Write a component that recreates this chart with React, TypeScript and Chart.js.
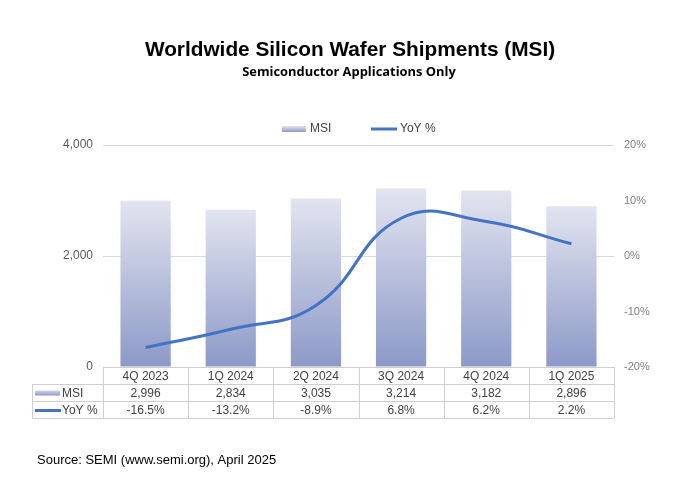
import React, { useEffect, useRef } from "react";
import { Chart, registerables } from "chart.js";

Chart.register(...registerables);

const quarters = ["4Q 2023", "1Q 2024", "2Q 2024", "3Q 2024", "4Q 2024", "1Q 2025"];
const msi = [2996, 2834, 3035, 3214, 3182, 2896];
const yoy = [-16.5, -13.2, -8.9, 6.8, 6.2, 2.2];
const msiTicks = ["0", "2,000", "4,000"];
const yoyTicks = ["-20%", "-10%", "0%", "10%", "20%"];

const LINE_BLUE = "#4472C4";
const BAR_TOP = "#e2e4ef";
const BAR_BOTTOM = "#8c99c8";
const TEXT = "#404040";
const GRID = "#d9d9d9";

const fmtMsi = (v: number) => v.toLocaleString("en-US");
const fmtYoy = (v: number) => v.toFixed(1) + "%";

// Title, legend, data table and source note drawn around the plot area
const decorations = {
  id: "decorations",
  afterDraw(chart: any) {
    const { ctx, chartArea, scales } = chart;
    const x = scales.x;
    ctx.save();

    // Title & subtitle
    ctx.fillStyle = "#000";
    ctx.textAlign = "center";
    ctx.textBaseline = "middle";
    ctx.font = "bold 20.8px 'Liberation Sans', Arial, sans-serif";
    ctx.fillText("Worldwide Silicon Wafer Shipments (MSI)", 350, 50);
    ctx.font = "bold 12.9px 'Open Sans', sans-serif";
    ctx.fillText("Semiconductor Applications Only", 349, 72);

    // Legend
    const msiGrad = ctx.createLinearGradient(0, 126, 0, 132);
    msiGrad.addColorStop(0, BAR_TOP);
    msiGrad.addColorStop(1, BAR_BOTTOM);
    ctx.fillStyle = msiGrad;
    ctx.fillRect(282, 126, 24, 6);
    ctx.strokeStyle = LINE_BLUE;
    ctx.lineWidth = 3;
    ctx.beginPath();
    ctx.moveTo(371, 129);
    ctx.lineTo(397, 129);
    ctx.stroke();
    ctx.fillStyle = TEXT;
    ctx.textAlign = "left";
    ctx.font = "12px 'Liberation Sans', Arial, sans-serif";
    ctx.fillText("MSI", 310, 129);
    ctx.fillText("YoY %", 400, 129);

    // Data table
    const top = chartArea.bottom;
    const rowH = 17;
    const left = 32;
    const n = quarters.length;
    const step = (chartArea.right - chartArea.left) / n;
    const colEdge = (i: number) => chartArea.left + i * step;
    ctx.strokeStyle = "#cfcfcf";
    ctx.lineWidth = 1;
    ctx.beginPath();
    ctx.moveTo(chartArea.left, top + 0.5);
    ctx.lineTo(chartArea.right, top + 0.5);
    for (let r = 1; r <= 3; r++) {
      const y = Math.round(top + r * rowH) + 0.5;
      ctx.moveTo(left, y);
      ctx.lineTo(chartArea.right, y);
    }
    for (let i = 0; i <= n; i++) {
      const xx = Math.round(colEdge(i)) + 0.5;
      ctx.moveTo(xx, top);
      ctx.lineTo(xx, top + 3 * rowH);
    }
    ctx.moveTo(left + 0.5, top + rowH);
    ctx.lineTo(left + 0.5, top + 3 * rowH);
    ctx.stroke();

    ctx.fillStyle = TEXT;
    ctx.textAlign = "center";
    ctx.font = "12px 'Liberation Sans', Arial, sans-serif";
    quarters.forEach((q, i) => {
      const cx = x.getPixelForValue(i);
      ctx.fillText(q, cx, top + rowH * 0.5 + 1);
      ctx.fillText(fmtMsi(msi[i]), cx, top + rowH * 1.5 + 1);
      ctx.fillText(fmtYoy(yoy[i]), cx, top + rowH * 2.5 + 1);
    });

    // Row keys
    const r1 = top + rowH * 1.5;
    const r2 = top + rowH * 2.5;
    const keyGrad = ctx.createLinearGradient(0, r1 - 3, 0, r1 + 3);
    keyGrad.addColorStop(0, BAR_TOP);
    keyGrad.addColorStop(1, BAR_BOTTOM);
    ctx.fillStyle = keyGrad;
    ctx.fillRect(35, r1 - 2, 25, 5);
    ctx.strokeStyle = LINE_BLUE;
    ctx.lineWidth = 3;
    ctx.beginPath();
    ctx.moveTo(35, r2 + 1);
    ctx.lineTo(61, r2 + 1);
    ctx.stroke();
    ctx.fillStyle = TEXT;
    ctx.textAlign = "left";
    ctx.fillText("MSI", 62, r1 + 1);
    ctx.fillText("YoY %", 62, r2 + 1);

    // Source note
    ctx.fillStyle = "#000";
    ctx.font = "13px 'Liberation Sans', Arial, sans-serif";
    ctx.fillText("Source: SEMI (www.semi.org), April 2025", 37, 460);

    ctx.restore();
  },
};

function barFill(context: any) {
  const chart = context.chart;
  const yScale = chart.scales.y;
  if (!yScale || context.raw == null) return BAR_BOTTOM;
  const yTop = yScale.getPixelForValue(context.raw);
  const yBase = yScale.getPixelForValue(0);
  if (!isFinite(yTop) || !isFinite(yBase)) return BAR_BOTTOM;
  const g = chart.ctx.createLinearGradient(0, yTop, 0, yBase);
  g.addColorStop(0, BAR_TOP);
  g.addColorStop(1, BAR_BOTTOM);
  return g;
}

export default function App() {
  const ref = useRef<HTMLCanvasElement>(null);

  useEffect(() => {
    document.body.style.margin = "0";
    const canvas = ref.current;
    if (!canvas) return;
    const chart = new Chart(canvas, {
      type: "bar",
      data: {
        labels: quarters,
        datasets: [
          {
            type: "line",
            label: "YoY %",
            data: yoy,
            yAxisID: "y2",
            borderColor: LINE_BLUE,
            borderWidth: 3,
            tension: 0.45,
            pointRadius: 0,
            fill: false,
            order: 0,
          } as any,
          {
            type: "bar",
            label: "MSI",
            data: msi,
            yAxisID: "y",
            backgroundColor: barFill,
            barPercentage: 0.59,
            categoryPercentage: 1,
            order: 1,
          },
        ],
      },
      options: {
        responsive: false,
        animation: false,
        devicePixelRatio: 1,
        layout: { padding: { top: 145, bottom: 111, left: 0, right: 0 } },
        plugins: {
          legend: { display: false },
          title: { display: false },
          tooltip: { enabled: false },
        },
        scales: {
          x: { display: false, offset: true },
          y: {
            position: "left",
            min: 0,
            max: 4000,
            afterFit: (s: any) => {
              s.width = 103;
            },
            afterBuildTicks: (s: any) => {
              s.ticks = msiTicks.map((_, i) => ({ value: i * 2000 }));
            },
            border: { display: false },
            grid: { color: GRID, drawTicks: false, lineWidth: 1 },
            ticks: {
              padding: 10,
              color: "#595959",
              font: { family: "'Liberation Sans', Arial, sans-serif", size: 12 },
              callback: (_v: any, i: number) => msiTicks[i],
            },
          },
          y2: {
            position: "right",
            min: -20,
            max: 20,
            afterFit: (s: any) => {
              s.width = 60;
            },
            afterBuildTicks: (s: any) => {
              s.ticks = yoyTicks.map((_, i) => ({ value: -20 + i * 10 }));
            },
            border: { display: false },
            grid: { display: false, drawTicks: false },
            ticks: {
              padding: 10,
              color: "#7f7f7f",
              font: { family: "'Liberation Sans', Arial, sans-serif", size: 11 },
              callback: (_v: any, i: number) => yoyTicks[i],
            },
          },
        },
      },
      plugins: [decorations],
    });
    return () => chart.destroy();
  }, []);

  return (
    <div style={{ width: 674, height: 478, background: "#fff" }}>
      <canvas ref={ref} width={674} height={478} style={{ display: "block" }} />
    </div>
  );
}
